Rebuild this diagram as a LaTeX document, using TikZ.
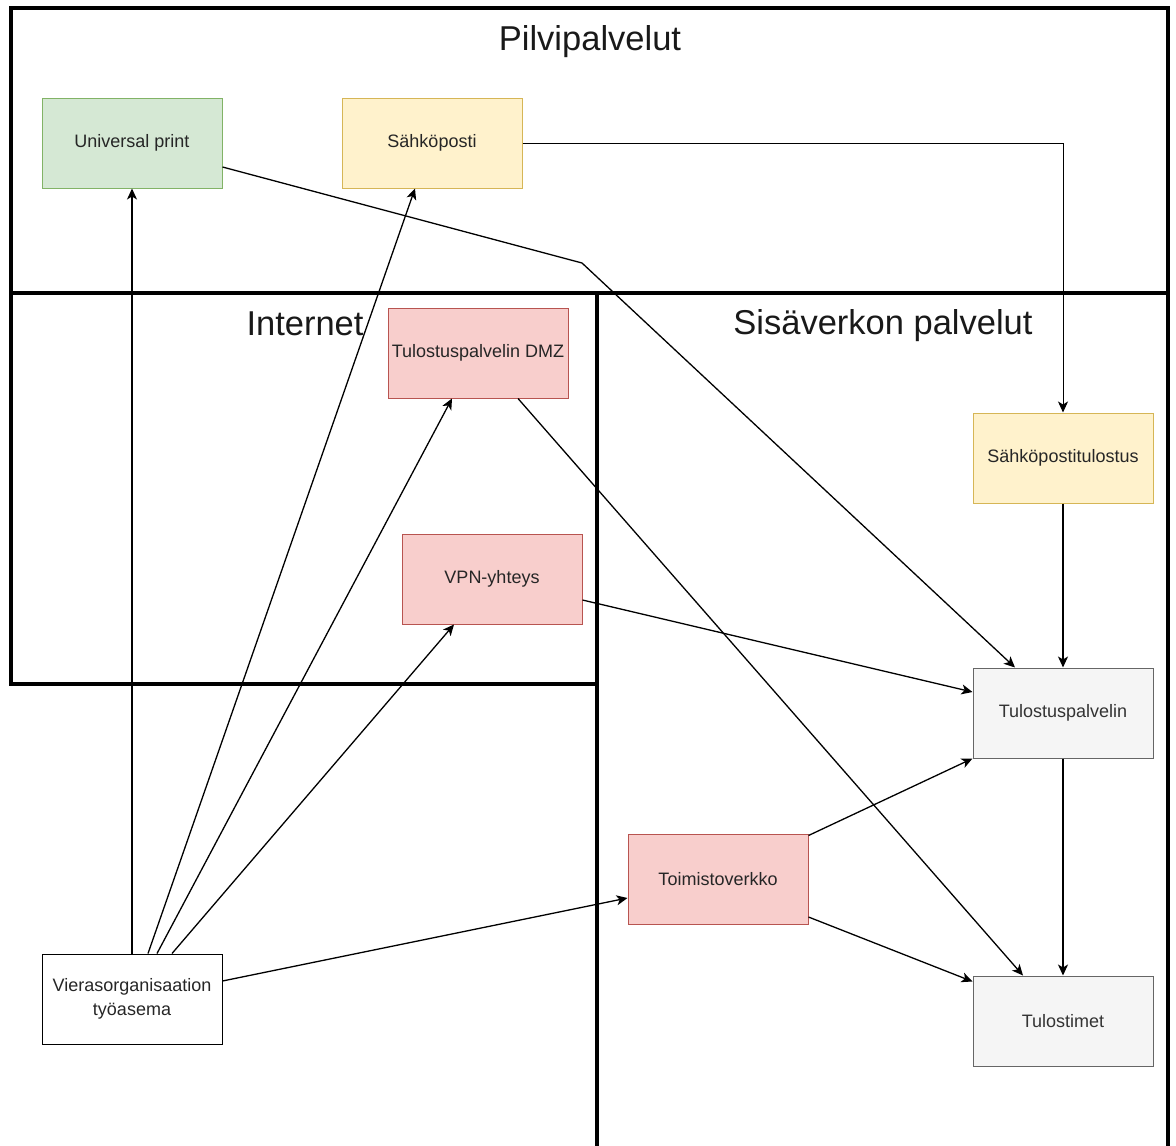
\documentclass[tikz,border=0pt]{standalone}
\usepackage{fontspec}
\setmainfont{Liberation Sans}
\usetikzlibrary{arrows.meta}
\definecolor{gfill}{HTML}{D5E8D4}
\definecolor{gline}{HTML}{82B366}
\definecolor{yfill}{HTML}{FFF2CC}
\definecolor{yline}{HTML}{D6B656}
\definecolor{rfill}{HTML}{F8CECC}
\definecolor{rline}{HTML}{B85450}
\definecolor{gyfill}{HTML}{F5F5F5}
\definecolor{gyline}{HTML}{666666}
\definecolor{gytext}{HTML}{333333}

\begin{document}
\begin{tikzpicture}[x=1pt,y=-1pt,line width=1.3,
	frame/.style={line width=4},
	title/.style={font=\fontsize{34.5}{40}\selectfont,text=black!90,inner sep=0},
	box/.style={draw,line width=1,minimum width=180pt,minimum height=90pt,inner sep=0,align=center,font=\fontsize{18}{24}\selectfont,text=black!85},
	gbox/.style={fill=gfill,draw=gline},
	ybox/.style={fill=yfill,draw=yline},
	rbox/.style={fill=rfill,draw=rline},
	gybox/.style={fill=gyfill,draw=gyline,text=gytext},
	arr/.style={-{Stealth[length=11pt,width=10pt,inset=3pt]}}]
			\useasboundingbox (0,0) rectangle (1176,1146);
			\draw[frame] (11,8) rectangle (1168,293);
			\draw[frame] (11,293) rectangle (597,684);
			\draw[frame] (597,1160) -- (597,293) -- (1168,293) -- (1168,1160);
			\node[title,anchor=base] (tcloud) at (590,50) {Pilvipalvelut};
			\node[title,anchor=base] (tnet) at (305,335) {Internet};
			\node[title,anchor=base] (tlan) at (883,334) {Sisäverkon palvelut};
			\node[box,gbox] (up) at (132,143) {Universal print};
			\node[box,ybox] (mail) at (432,143) {Sähköposti};
			\node[box,rbox] (dmz) at (478,353) {Tulostuspalvelin DMZ};
			\node[box,rbox] (vpn) at (492,579) {VPN-yhteys};
			\node[box,ybox] (mailprint) at (1063,458) {Sähköpostitulostus};
			\node[box,gybox] (ps) at (1063,713) {Tulostuspalvelin};
			\node[box,rbox] (office) at (718,879) {Toimistoverkko};
			\node[box,gybox] (printers) at (1063,1021) {Tulostimet};
			\node[box] (guest) at (132,999) {Vierasorganisaation\\työasema};
			\coordinate (bend) at (582,263);
			\draw[arr] (guest.north) -- (up.south);
			\draw[arr] ([xshift=16]guest.north) -- ([xshift=-17]mail.south);
			\draw[arr] ([xshift=25]guest.north) -- ([xshift=-26]dmz.south);
			\draw[arr] ([xshift=40]guest.north) -- ([xshift=-38]vpn.south);
			\draw[arr] ([yshift=18]guest.east) -- ([yshift=-19]office.west);
			\draw[arr] ([yshift=-24]up.east) -- (bend) -- ([xshift=-48]ps.north);
			\draw[arr,line width=1] (mail.east) -| (mailprint.north);
			\draw[arr] ([xshift=40]dmz.south) -- ([xshift=-40]printers.north);
			\draw[arr] ([yshift=-21]vpn.east) -- ([yshift=21]ps.west);
			\draw[arr] (mailprint) -- (ps);
			\draw[arr] ([yshift=-2]office.north east) -- (ps.south west);
			\draw[arr] ([yshift=-38]office.east) -- ([yshift=-6]printers.north west);
			\draw[arr] (ps) -- (printers);
		\end{tikzpicture}
\end{document}
